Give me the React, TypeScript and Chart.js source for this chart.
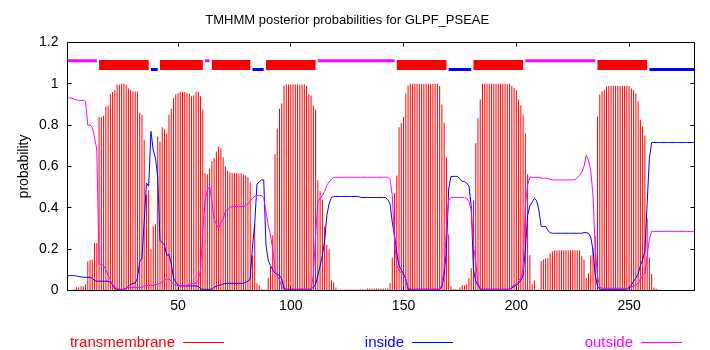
import React, { useEffect, useRef } from "react";
import { Chart, registerables } from "chart.js";

Chart.register(...registerables);

const TITLE = "TMHMM posterior probabilities for GLPF_PSEAE";
const Y_LABEL = "probability";
const SERIES_NAMES = ["transmembrane", "inside", "outside"];
const SERIES_COLORS = ["#ff0000", "#0000ff", "#ff00ff"];

const X_TICKS = [50, 100, 150, 200, 250];
const Y_TICKS = [0, 0.2, 0.4, 0.6, 0.8, 1, 1.2];
const SEQ_LENGTH = 279;

// predicted topology (residue ranges)
const TM_REGIONS = [[15, 37], [42, 61], [65, 82], [89, 111], [147, 169], [181, 203], [236, 258]];
const INSIDE_REGIONS = [[38, 41], [83, 88], [170, 180], [259, 279]];
const OUTSIDE_REGIONS = [[1, 14], [62, 64], [112, 146], [204, 235]];

// posterior probabilities per residue 1..279
const transmembrane = [
  0, 0, 0, 0.006, 0.016, 0.016, 0.02, 0.02, 0.03, 0.14,
  0.147, 0.15, 0.23, 0.23, 0.84, 0.84, 0.845, 0.89, 0.895, 0.95,
  0.96, 0.97, 0.995, 0.995, 1, 1, 0.995, 0.977, 0.97, 0.963,
  0.963, 0.963, 0.86, 0.85, 0.73, 0.465, 0.485, 0.2, 0.31, 0.32,
  0.745, 0.72, 0.79, 0.78, 0.76, 0.85, 0.88, 0.93, 0.95, 0.955,
  0.96, 0.96, 0.96, 0.955, 0.953, 0.94, 0.945, 0.96, 0.96, 0.94,
  0.876, 0.567, 0.562, 0.59, 0.625, 0.64, 0.673, 0.697, 0.688, 0.644,
  0.6, 0.58, 0.572, 0.567, 0.567, 0.567, 0.567, 0.567, 0.562, 0.557,
  0.548, 0.523, 0.17, 0.32, 0.035, 0.026, 0.006, 0.004, 0.003, 0.06,
  0.118, 0.267, 0.659, 0.784, 0.88, 0.905, 0.992, 0.997, 0.997, 0.997,
  0.997, 0.997, 0.997, 0.997, 0.997, 0.997, 0.99, 0.95, 0.944, 0.895,
  0.876, 0.533, 0.48, 0.44, 0.31, 0.22, 0.2, 0.05, 0.04, 0.015,
  0.005, 0.005, 0.005, 0.005, 0.005, 0.005, 0.005, 0.005, 0.005, 0.005,
  0.005, 0.005, 0.005, 0.01, 0.01, 0.01, 0.01, 0.01, 0.01, 0.01,
  0.01, 0.01, 0.01, 0.035, 0.16, 0.47, 0.557, 0.79, 0.81, 0.84,
  0.953, 0.992, 1, 1, 1, 1, 1, 1, 1, 1,
  1, 1, 1, 1, 1, 0.99, 0.9, 0.813, 0.644, 0.272,
  0.02, 0.006, 0.006, 0.006, 0.016, 0.026, 0.026, 0.03, 0.06, 0.108,
  0.436, 0.712, 0.833, 0.924, 1, 1, 1, 1, 1, 1,
  1, 1, 1, 1, 1, 1, 1, 0.99, 0.98, 0.97,
  0.924, 0.895, 0.85, 0.76, 0.562, 0.17, 0.03, 0.05, 0.004, 0.004,
  0.142, 0.15, 0.156, 0.156, 0.18, 0.19, 0.195, 0.195, 0.195, 0.195,
  0.195, 0.195, 0.195, 0.195, 0.195, 0.195, 0.195, 0.195, 0.166, 0.15,
  0.06, 0.084, 0.17, 0.204, 0.262, 0.842, 0.948, 0.963, 0.97, 0.987,
  0.99, 0.99, 0.99, 0.99, 0.99, 0.99, 0.99, 0.99, 0.99, 0.99,
  0.977, 0.97, 0.953, 0.915, 0.828, 0.794, 0.75, 0.35, 0.16, 0.08,
  0.015, 0.01, 0.005, 0, 0, 0, 0, 0, 0, 0,
  0, 0, 0, 0, 0, 0, 0, 0, 0,
];

const inside = [
  0.072, 0.072, 0.072, 0.072, 0.07, 0.068, 0.066, 0.064, 0.064, 0.064,
  0.064, 0.058, 0.048, 0.045, 0.045, 0.045, 0.045, 0.045, 0.045, 0.04,
  0.025, 0.01, 0.006, 0.006, 0.006, 0.006, 0.01, 0.022, 0.03, 0.035,
  0.035, 0.06, 0.14, 0.156, 0.33, 0.52, 0.505, 0.77, 0.68, 0.64,
  0.55, 0.243, 0.23, 0.22, 0.17, 0.175, 0.13, 0.06, 0.04, 0.026,
  0.022, 0.022, 0.022, 0.022, 0.022, 0.022, 0.022, 0.022, 0.02, 0.008,
  0.006, 0.006, 0.006, 0.006, 0.006, 0.016, 0.02, 0.026, 0.026, 0.032,
  0.035, 0.035, 0.035, 0.035, 0.035, 0.035, 0.035, 0.035, 0.035, 0.04,
  0.045, 0.055, 0.21, 0.32, 0.515, 0.525, 0.535, 0.535, 0.22, 0.147,
  0.12, 0.1, 0.084, 0.078, 0.074, 0.055, 0.01, 0.006, 0.006, 0.006,
  0.006, 0.006, 0.006, 0.006, 0.006, 0.006, 0.006, 0.006, 0.006, 0.016,
  0.03, 0.074, 0.118, 0.17, 0.24, 0.364, 0.42, 0.45, 0.455, 0.455,
  0.455, 0.455, 0.455, 0.455, 0.455, 0.455, 0.455, 0.455, 0.455, 0.455,
  0.45, 0.45, 0.45, 0.45, 0.45, 0.45, 0.45, 0.45, 0.45, 0.45,
  0.45, 0.45, 0.44, 0.42, 0.33, 0.267, 0.18, 0.12, 0.1, 0.08,
  0.055, 0.006, 0.006, 0.006, 0.006, 0.006, 0.006, 0.006, 0.006, 0.006,
  0.006, 0.006, 0.006, 0.006, 0.006, 0.006, 0.016, 0.074, 0.195, 0.49,
  0.552, 0.552, 0.552, 0.552, 0.538, 0.528, 0.528, 0.52, 0.505, 0.41,
  0.1, 0.045, 0.026, 0.006, 0.006, 0.006, 0.006, 0.006, 0.006, 0.006,
  0.006, 0.006, 0.006, 0.006, 0.006, 0.006, 0.006, 0.012, 0.02, 0.026,
  0.035, 0.05, 0.074, 0.2, 0.364, 0.41, 0.427, 0.446, 0.435, 0.39,
  0.31, 0.31, 0.31, 0.29, 0.28, 0.277, 0.277, 0.277, 0.277, 0.277,
  0.277, 0.277, 0.277, 0.277, 0.277, 0.277, 0.277, 0.277, 0.277, 0.28,
  0.28, 0.277, 0.258, 0.195, 0.074, 0.02, 0.006, 0.006, 0.006, 0.006,
  0.006, 0.006, 0.006, 0.006, 0.006, 0.006, 0.006, 0.006, 0.006, 0.016,
  0.026, 0.045, 0.06, 0.08, 0.12, 0.15, 0.19, 0.42, 0.64, 0.716,
  0.716, 0.716, 0.716, 0.716, 0.716, 0.716, 0.716, 0.716, 0.716, 0.716,
  0.716, 0.716, 0.716, 0.716, 0.716, 0.716, 0.716, 0.716, 0.716,
];

const outside = [
  0.932, 0.932, 0.93, 0.925, 0.922, 0.92, 0.92, 0.92, 0.915, 0.8,
  0.8, 0.79, 0.74, 0.68, 0.127, 0.127, 0.12, 0.1, 0.075, 0.05,
  0.03, 0.02, 0.01, 0.005, 0.005, 0.005, 0.01, 0.015, 0.015, 0.015,
  0.015, 0.015, 0.015, 0.015, 0.02, 0.025, 0.025, 0.025, 0.025, 0.03,
  0.03, 0.035, 0.04, 0.05, 0.055, 0.055, 0.045, 0.03, 0.025, 0.025,
  0.025, 0.025, 0.025, 0.025, 0.03, 0.035, 0.035, 0.035, 0.05, 0.1,
  0.29, 0.44, 0.485, 0.504, 0.436, 0.345, 0.32, 0.3, 0.33, 0.345,
  0.383, 0.39, 0.4, 0.407, 0.407, 0.407, 0.407, 0.407, 0.407, 0.41,
  0.42, 0.43, 0.446, 0.455, 0.46, 0.46, 0.46, 0.45, 0.38, 0.316,
  0.267, 0.2, 0.1, 0.07, 0.05, 0.016, 0.006, 0.006, 0.006, 0.006,
  0.006, 0.006, 0.006, 0.006, 0.006, 0.006, 0.006, 0.006, 0.006, 0.074,
  0.267, 0.43, 0.446, 0.46, 0.48, 0.51, 0.525, 0.538, 0.548, 0.548,
  0.548, 0.548, 0.548, 0.548, 0.548, 0.548, 0.548, 0.548, 0.548, 0.548,
  0.548, 0.548, 0.548, 0.548, 0.548, 0.548, 0.548, 0.548, 0.548, 0.548,
  0.548, 0.548, 0.548, 0.538, 0.46, 0.238, 0.12, 0.1, 0.084, 0.074,
  0.055, 0.016, 0.006, 0.006, 0.006, 0.006, 0.006, 0.006, 0.006, 0.006,
  0.006, 0.006, 0.006, 0.006, 0.006, 0.006, 0.03, 0.106, 0.3, 0.436,
  0.45, 0.45, 0.45, 0.45, 0.45, 0.45, 0.45, 0.446, 0.43, 0.39,
  0.22, 0.138, 0.035, 0.01, 0.006, 0.006, 0.006, 0.006, 0.006, 0.006,
  0.006, 0.006, 0.006, 0.006, 0.006, 0.006, 0.006, 0.016, 0.026, 0.035,
  0.045, 0.064, 0.1, 0.41, 0.51, 0.548, 0.548, 0.548, 0.548, 0.548,
  0.543, 0.543, 0.543, 0.543, 0.538, 0.535, 0.535, 0.535, 0.535, 0.535,
  0.535, 0.535, 0.535, 0.535, 0.535, 0.535, 0.548, 0.557, 0.572, 0.6,
  0.655, 0.63, 0.58, 0.46, 0.2, 0.07, 0.016, 0.011, 0.011, 0.011,
  0.011, 0.011, 0.011, 0.011, 0.011, 0.011, 0.011, 0.011, 0.011, 0.011,
  0.016, 0.021, 0.026, 0.035, 0.055, 0.074, 0.08, 0.17, 0.25, 0.286,
  0.286, 0.286, 0.286, 0.286, 0.286, 0.286, 0.286, 0.286, 0.286, 0.286,
  0.286, 0.286, 0.286, 0.286, 0.286, 0.286, 0.286, 0.286, 0.286,
];

const FONT = '"Liberation Sans", Arial, Helvetica, sans-serif';

function topoPoints(regions: number[][], level: number) {
  const pts: { x: number; y: number | null }[] = [];
  regions.forEach(([a, b]) => {
    pts.push({ x: a, y: level });
    pts.push({ x: b, y: level });
    pts.push({ x: b + 0.5, y: null });
  });
  return pts;
}

const framePlugin = {
  id: "gnuplotFrame",
  afterDraw(chart: any) {
    const { ctx, chartArea, scales } = chart;
    const { left, right, top, bottom } = chartArea;
    const xs = scales.x;
    const ys = scales.y;
    ctx.save();
    ctx.strokeStyle = "#000";
    ctx.lineWidth = 1;
    ctx.beginPath();
    ctx.rect(left, top, right - left, bottom - top);
    const tl = 4;
    X_TICKS.forEach((v) => {
      const p = Math.round(xs.getPixelForValue(v) - 0.5) + 0.5;
      ctx.moveTo(p, bottom);
      ctx.lineTo(p, bottom - tl);
      ctx.moveTo(p, top);
      ctx.lineTo(p, top + tl);
    });
    Y_TICKS.forEach((v) => {
      const p = Math.round(ys.getPixelForValue(v) - 0.5) + 0.5;
      ctx.moveTo(left, p);
      ctx.lineTo(left + tl, p);
      ctx.moveTo(right, p);
      ctx.lineTo(right - tl, p);
    });
    ctx.stroke();

    // key below the plot
    const keyY = 342.5;
    const sampleStarts = [183, 412, 641];
    ctx.font = `15px ${FONT}`;
    ctx.textAlign = "right";
    ctx.textBaseline = "middle";
    SERIES_NAMES.forEach((name, i) => {
      const sx = sampleStarts[i];
      ctx.fillStyle = SERIES_COLORS[i];
      ctx.fillText(name, sx - 8, keyY);
      ctx.strokeStyle = SERIES_COLORS[i];
      ctx.beginPath();
      ctx.moveTo(sx, keyY);
      ctx.lineTo(sx + 41, keyY);
      ctx.stroke();
    });
    ctx.restore();
  },
};

export default function App() {
  const canvasRef = useRef<HTMLCanvasElement | null>(null);

  useEffect(() => {
    document.body.style.margin = "0";
    const canvas = canvasRef.current;
    if (!canvas) return;
    const residues: number[] = [];
    for (let i = 1; i <= SEQ_LENGTH; i++) residues.push(i);

    const chart = new Chart(canvas, {
      type: "line",
      data: {
        datasets: [
          {
            type: "line",
            data: topoPoints(OUTSIDE_REGIONS, 1.112),
            borderColor: SERIES_COLORS[2],
            borderWidth: 3,
            pointRadius: 0,
            spanGaps: false,
            borderCapStyle: "butt",
            order: 0,
          },
          {
            type: "line",
            data: topoPoints(TM_REGIONS, 1.091),
            borderColor: SERIES_COLORS[0],
            borderWidth: 10,
            pointRadius: 0,
            spanGaps: false,
            borderCapStyle: "butt",
            order: 0,
          },
          {
            type: "line",
            data: topoPoints(INSIDE_REGIONS, 1.069),
            borderColor: SERIES_COLORS[1],
            borderWidth: 3,
            pointRadius: 0,
            spanGaps: false,
            borderCapStyle: "butt",
            order: 0,
          },
          {
            type: "line",
            label: SERIES_NAMES[2],
            data: residues.map((r, i) => ({ x: r, y: outside[i] })),
            borderColor: SERIES_COLORS[2],
            borderWidth: 1,
            pointRadius: 0,
            tension: 0,
            order: 1,
          },
          {
            type: "line",
            label: SERIES_NAMES[1],
            data: residues.map((r, i) => ({ x: r, y: inside[i] })),
            borderColor: SERIES_COLORS[1],
            borderWidth: 1,
            pointRadius: 0,
            tension: 0,
            order: 1,
          },
          {
            type: "bar",
            label: SERIES_NAMES[0],
            data: residues.map((r, i) => ({ x: r, y: transmembrane[i] })),
            backgroundColor: SERIES_COLORS[0],
            borderWidth: 0,
            barThickness: 1,
            inflateAmount: 0,
            grouped: false,
            order: 2,
          } as any,
        ],
      },
      options: {
        responsive: false,
        maintainAspectRatio: false,
        animation: false,
        events: [],
        layout: { padding: { left: 0, right: 15.5, top: 0, bottom: 0 } },
        plugins: {
          legend: { display: false },
          tooltip: { enabled: false },
          title: {
            display: true,
            text: TITLE,
            color: "#000",
            font: { family: FONT, size: 13, weight: "normal" },
            padding: { top: 12.2, bottom: 14.7 },
          },
        },
        scales: {
          x: {
            type: "linear",
            min: 1,
            max: SEQ_LENGTH,
            offset: false,
            afterBuildTicks: (s: any) => {
              s.ticks = X_TICKS.map((v) => ({ value: v }));
            },
            afterFit: (s: any) => {
              s.height = 59.5;
            },
            ticks: {
              color: "#000",
              font: { family: FONT, size: 14 },
              padding: 7,
              maxRotation: 0,
              autoSkip: false,
            },
            grid: { display: false, drawTicks: false, offset: false },
            border: { display: false },
          },
          y: {
            type: "linear",
            min: 0,
            max: 1.2,
            afterBuildTicks: (s: any) => {
              s.ticks = Y_TICKS.map((v) => ({ value: v }));
            },
            afterFit: (s: any) => {
              s.width = 67.5;
            },
            ticks: {
              color: "#000",
              font: { family: FONT, size: 14 },
              padding: 9,
              callback: (v: any) => String(v),
            },
            title: {
              display: true,
              text: Y_LABEL,
              color: "#000",
              font: { family: FONT, size: 14 },
              padding: { top: 16, bottom: 0 },
            },
            grid: { display: false, drawTicks: false },
            border: { display: false },
          },
        },
      } as any,
      plugins: [framePlugin],
    });
    return () => chart.destroy();
  }, []);

  return (
    <div style={{ width: 710, height: 350 }}>
      <canvas ref={canvasRef} width={710} height={350} style={{ display: "block", width: 710, height: 350 }} />
    </div>
  );
}
